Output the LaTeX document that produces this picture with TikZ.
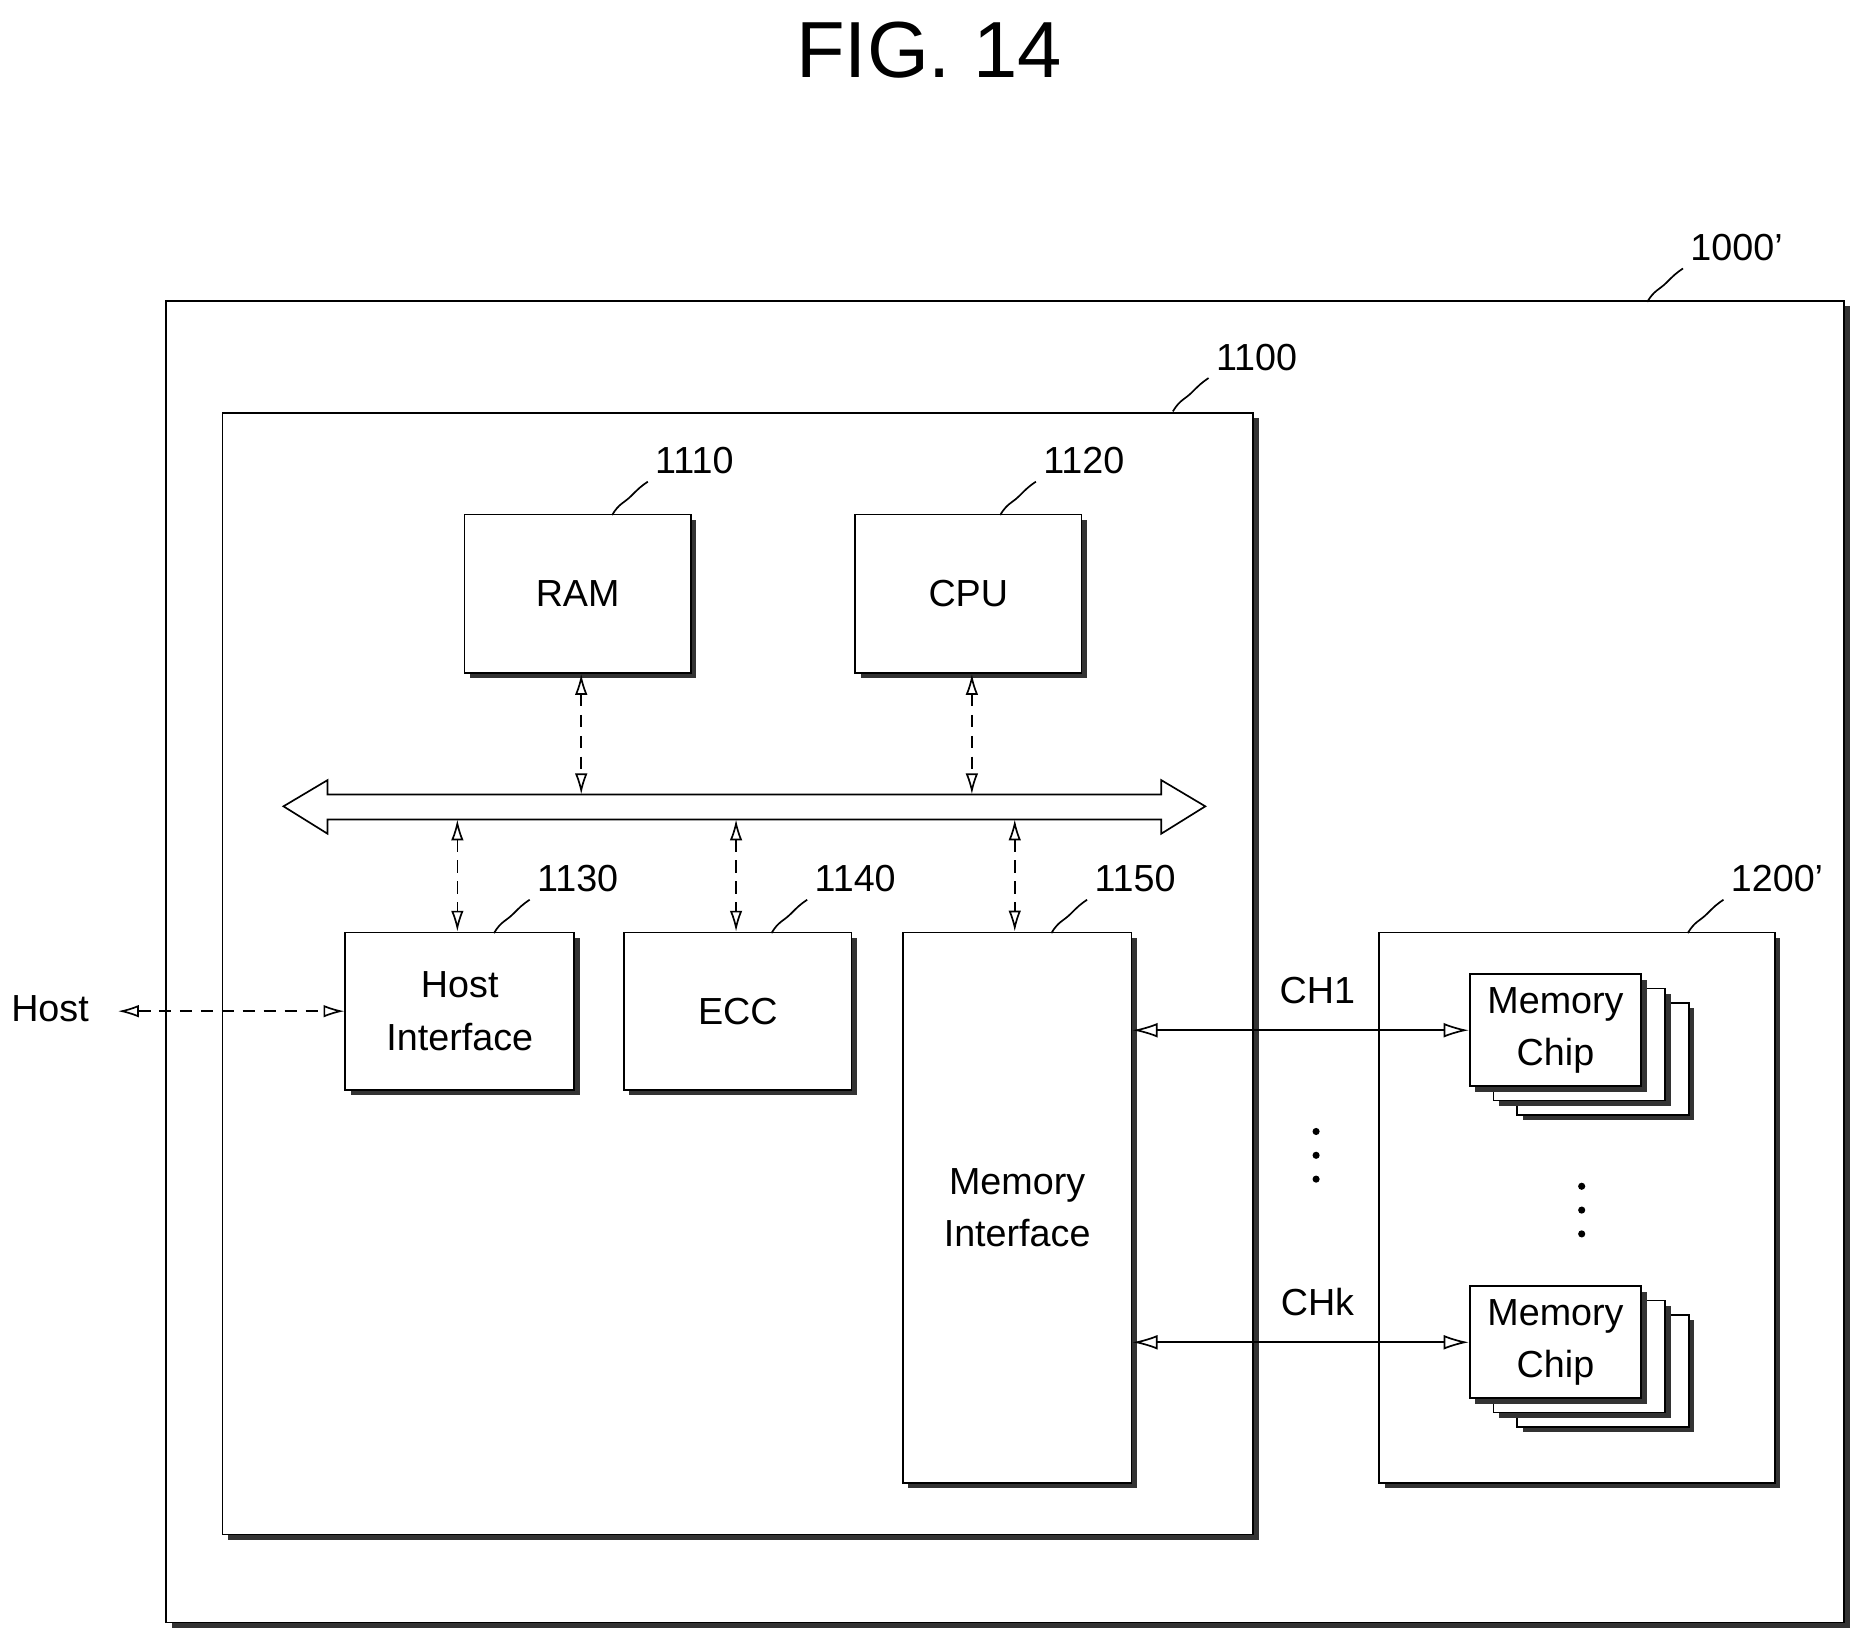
\documentclass[tikz,border=0pt]{standalone}
\usepackage{fontspec}
\setmainfont{Liberation Sans}
\usetikzlibrary{shadows,arrows.meta,calc}
\tikzset{
  blk/.style={draw,thin,fill=white,align=center,inner sep=0pt,
    font=\fontsize{9}{12.5}\selectfont,
    drop shadow={shadow xshift=1.3pt,shadow yshift=-1.3pt,fill=black!80,opacity=1}},
  num/.style={font=\fontsize{9}{11}\selectfont,inner sep=1pt},
  link/.style={thin,densely dashed,{Latex[length=5pt,width=3pt,open]}-{Latex[length=5pt,width=3pt,open]}},
  chan/.style={thin,{Latex[length=6pt,width=3.5pt,open]}-{Latex[length=6pt,width=3.5pt,open]}}
}
% wavy leader ending at a number
\newcommand{\lead}[1]{\draw[thin] ($(#1)+(-30,28)$) .. controls +(6,-10) and +(-6,6) .. ($(#1)+(-14,12)$) .. controls +(6,-6) and +(-6,4) .. (#1);}
\begin{document}
\begin{tikzpicture}[x=0.01cm,y=-0.01cm]
  \useasboundingbox (0,0) rectangle (1560,1376);
  \node[font=\fontsize{19}{22}\selectfont] (title) at (780,42) {FIG. 14};
  % boxes
  \node[blk,minimum width=14.08cm,minimum height=11.09cm] (sys) at (844,807.5) {};
  \node[blk,minimum width=8.65cm,minimum height=9.41cm] (ctrl) at (619.5,817.5) {};
  \node[blk,minimum width=1.9cm,minimum height=1.33cm] (ram) at (485,498.5) {RAM};
  \node[blk,minimum width=1.9cm,minimum height=1.33cm] (cpu) at (813,498.5) {CPU};
  \node[blk,minimum width=1.92cm,minimum height=1.32cm] (hif) at (386,849) {Host\\Interface};
  \node[blk,minimum width=1.91cm,minimum height=1.32cm] (ecc) at (619.5,849) {ECC};
  \node[blk,minimum width=1.92cm,minimum height=4.62cm] (mif) at (854,1014) {Memory\\Interface};
  \node[blk,minimum width=3.32cm,minimum height=4.62cm] (mem) at (1324,1014) {};
  % stacked memory chips
  \foreach \n/\y in {a/865,b/1127}{
    \foreach \k in {2,1}
      \node[blk,minimum width=1.44cm,minimum height=0.94cm] at (1306+20*\k,\y+12*\k) {};
    \node[blk,minimum width=1.44cm,minimum height=0.94cm] (chip\n) at (1306,\y) {Memory\\Chip};
  }
  % bus
  \draw[thin,fill=white] (238,677) -- (275,655) -- (275,667) -- (975,667) -- (975,655)
    -- (1012,677) -- (975,700) -- (975,688) -- (275,688) -- (275,700) -- cycle;
  \foreach \x/\n in {488/ram,816/cpu}
    \coordinate (bus\n) at (\x,667);
  \foreach \x/\n in {384/hif,618/ecc,852/mif}
    \coordinate (bus\n) at (\x,688);
  \draw[link] (ram.south -| busram) -- (busram);
  \draw[link] (cpu.south -| buscpu) -- (buscpu);
  \draw[link] (bushif) -- (hif.north -| bushif);
  \draw[link] (busecc) -- (ecc.north -| busecc);
  \draw[link] (busmif) -- (mif.north -| busmif);
  % host
  \node[font=\fontsize{9}{11}\selectfont] (host) at (42,847) {Host};
  \coordinate (hoste) at ($(host.east)+(12,2)$);
  \draw[link] (hoste) -- (hif.west |- hoste);
  % channels
  \draw[chan] (mif.east |- chipa) -- node[above=5pt,num,pos=0.55] {CH1} (chipa.west);
  \draw[chan] (mif.east |- chipb) -- node[above=5pt,num,pos=0.55] {CHk} (chipb.west);
  \foreach \y in {950,970,990} \fill (1105,\y) circle (3);
  \foreach \y in {996,1016,1036} \fill (1328,\y) circle (3);
  % numbers
  \foreach \c/\t/\x/\y in {sys/1000'/1458/208, ctrl/1100/1055/300, ram/1110/583/387,
      cpu/1120/910/387, hif/1130/485/738, ecc/1140/718/738, mif/1150/953/738, mem/1200'/1492/738}{
    \node[num] (n\c) at (\x,\y) {\t};
    \lead{$(n\c.south west)+(-2,2)$}
  }
\end{tikzpicture}
\end{document}
